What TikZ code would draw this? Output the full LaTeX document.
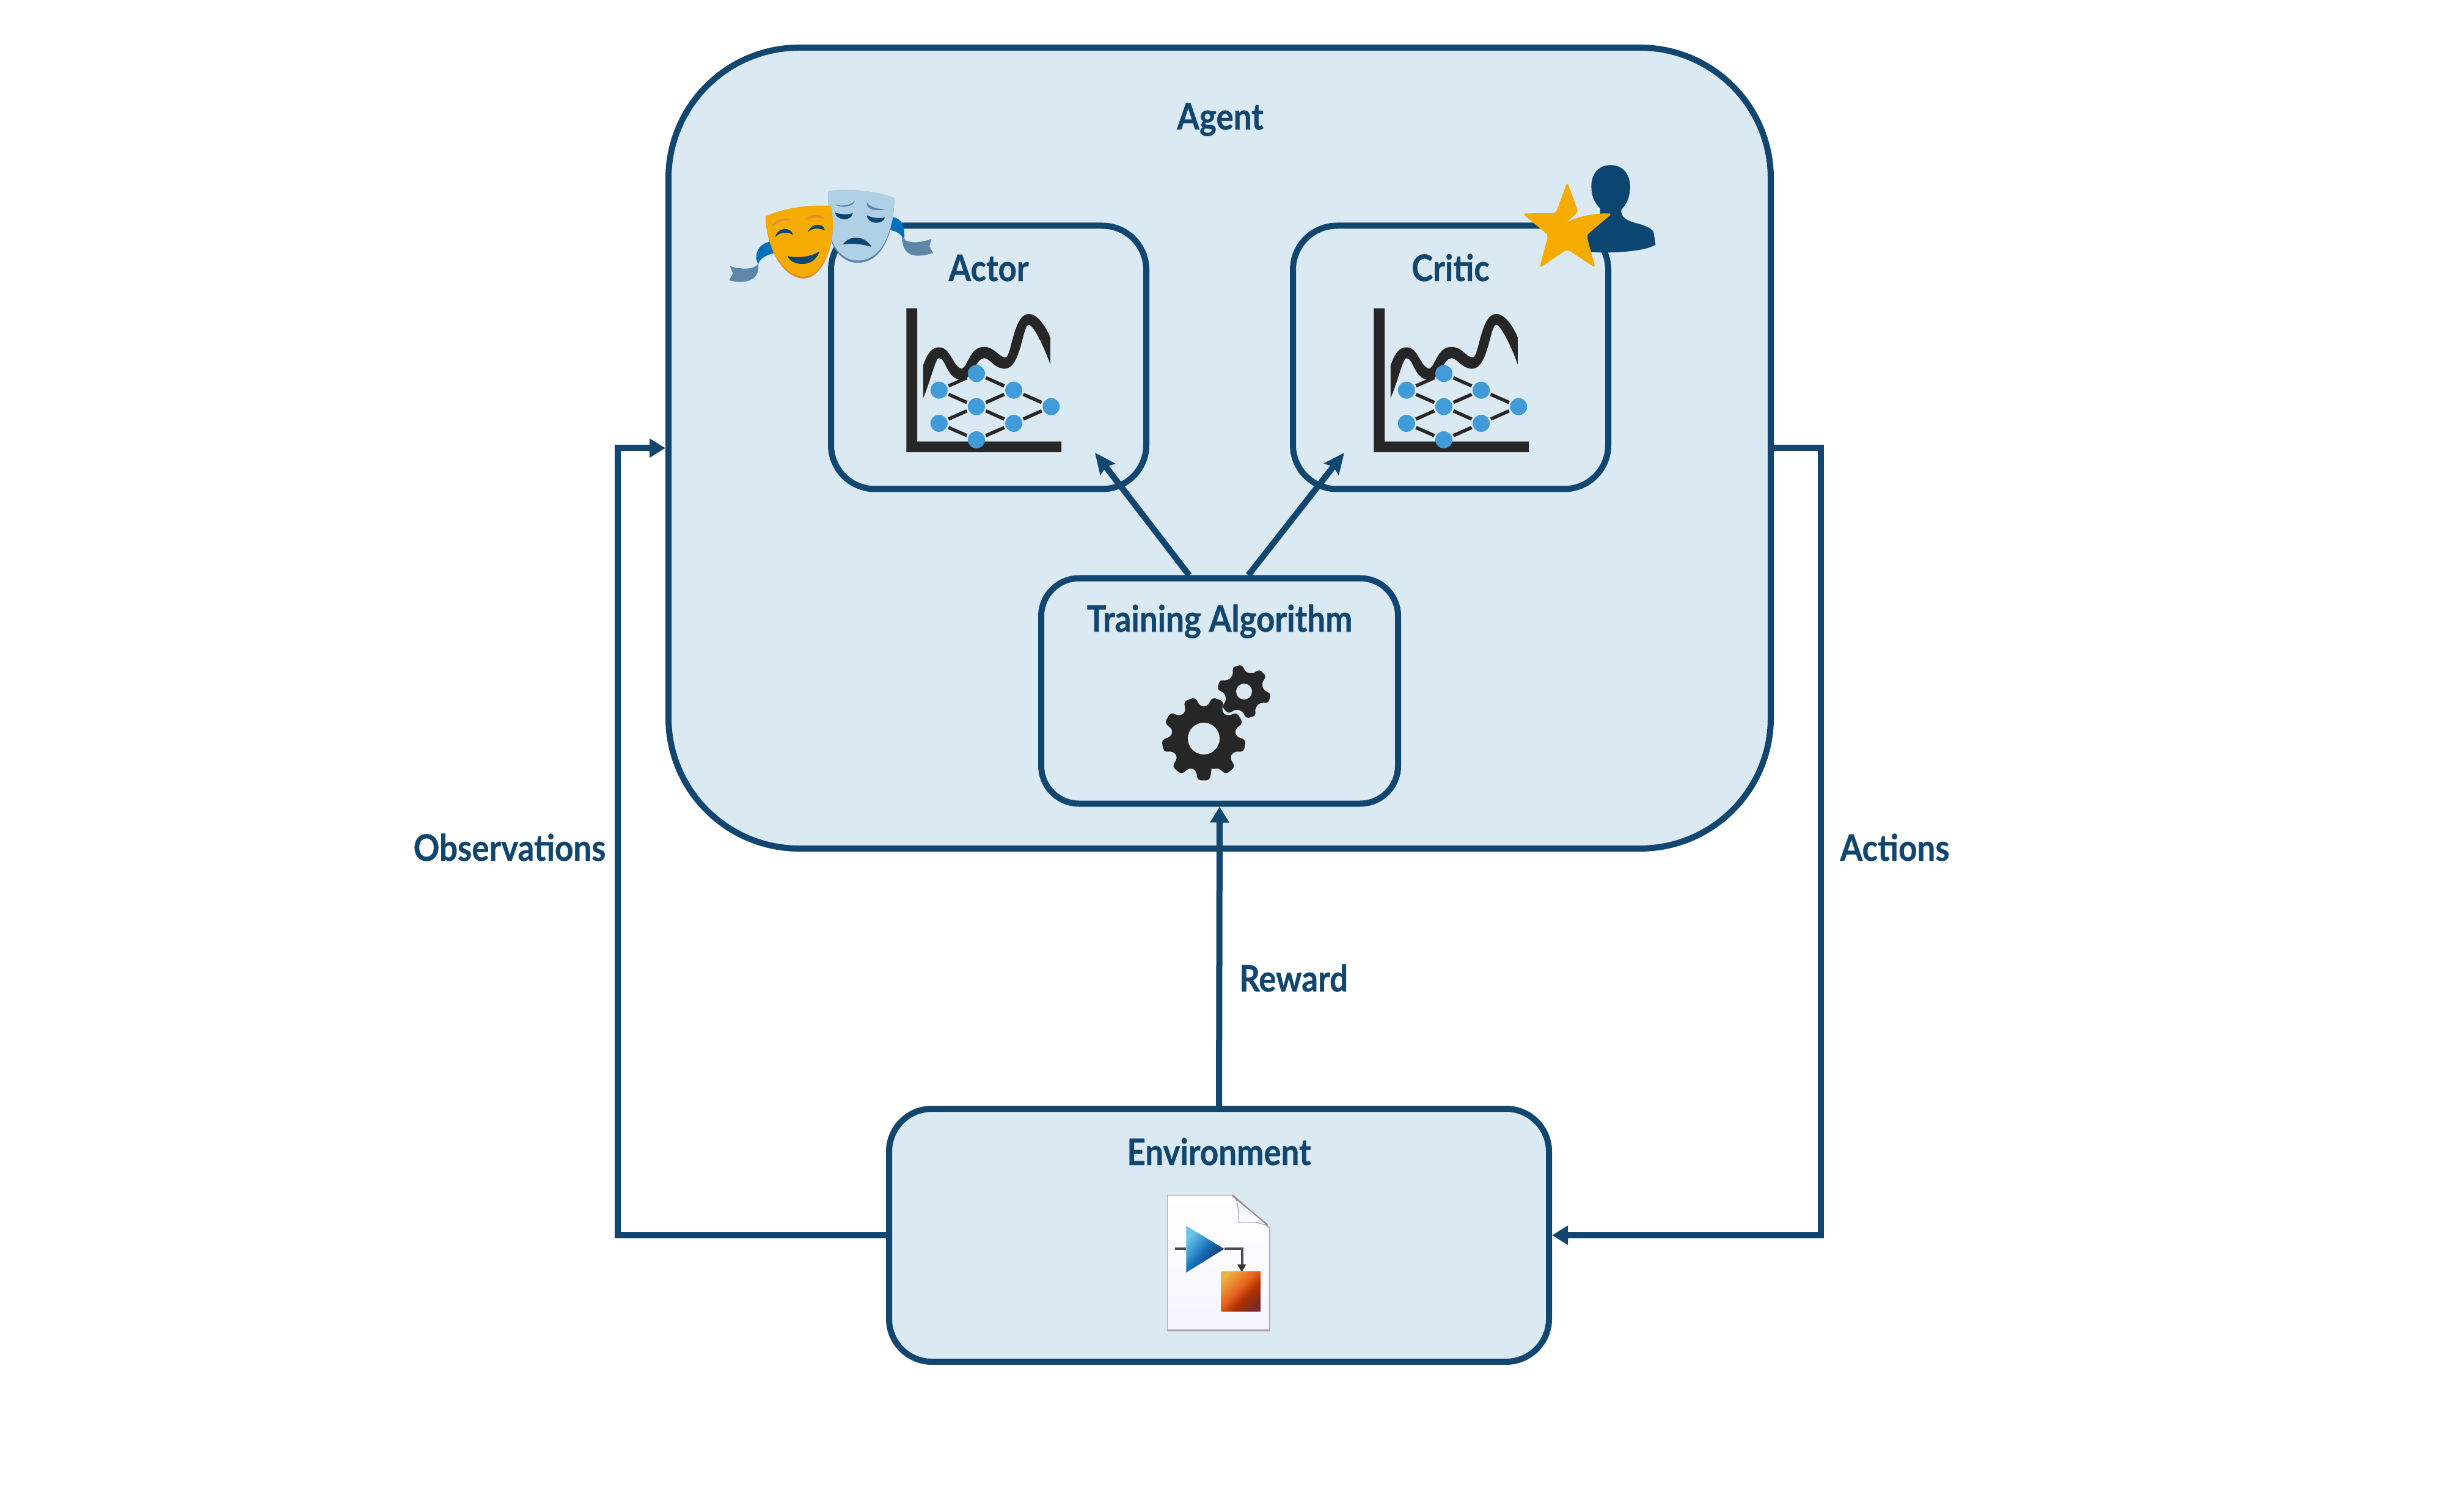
\documentclass[tikz,border=0pt]{standalone}
\usepackage{fontspec}
\setsansfont[FakeStretch=0.885,BoldFeatures={FakeBold=0.6}]{Lato}
\usetikzlibrary{arrows.meta,positioning,calc}
\definecolor{Ink}{HTML}{10466F}
\definecolor{PanelFill}{HTML}{DBE9F3}
\definecolor{Graphite}{HTML}{262626}
\definecolor{NetBlue}{HTML}{419BD8}
\definecolor{Amber}{HTML}{F5AB00}
\definecolor{AmberDark}{HTML}{DE9030}
\definecolor{SadBlue}{HTML}{B0D0E5}
\definecolor{SadShade}{HTML}{5D86A8}
\definecolor{Ribbon}{HTML}{0070BC}
\definecolor{PersonBlue}{HTML}{0B4672}
\definecolor{BlockA}{HTML}{E8B53E}
\definecolor{BlockB}{HTML}{E86320}
\definecolor{BlockC}{HTML}{B03000}
\definecolor{BlockD}{HTML}{7A2A28}
\definecolor{TriA}{HTML}{6CC4EA}
\definecolor{TriB}{HTML}{1570B8}
\definecolor{TriC}{HTML}{21346B}
\pgfdeclareverticalshading{blockshade}{100bp}{color(0bp)=(BlockD); color(24bp)=(BlockD); color(40bp)=(BlockC); color(54bp)=(BlockB); color(78bp)=(BlockA); color(100bp)=(BlockA)}
\pgfdeclareverticalshading{gainshade}{100bp}{color(0bp)=(TriC); color(32bp)=(TriC); color(50bp)=(TriB); color(74bp)=(TriA); color(100bp)=(TriA)}
\tikzset{
  panel/.style={draw=Ink,fill=PanelFill,line width=0.10cm,rounded corners=#1,outer sep=0.05cm,inner sep=0pt},
  boxlabel/.style={anchor=base,text=Ink,inner sep=0pt,font=\sffamily\bfseries\fontsize{17}{20}\selectfont},
  flow/.style={Ink,line width=0.10cm,-{Stealth[length=0.34cm,width=0.30cm,inset=0.05cm]}},
  route/.style={Ink,line width=0.10cm,-{Triangle[length=0.26cm,width=0.30cm]}},
  netnode/.style={circle,fill=NetBlue,minimum size=0.28cm,inner sep=0pt,outer sep=0.03cm},
  netedge/.style={Graphite,line width=0.055cm},
  netplot/.pic={
    \fill[Graphite] (652,687) -- (687,687) -- (687,1277) -- (1150,1277) -- (1150,1325) -- (652,1325) -- cycle;
    \fill[Graphite] (706,1085) -- (706,940) .. controls (720,885) and (735,860) .. (757,860)
      .. controls (795,860) and (800,945) .. (830,955) .. controls (850,945) and (855,858) .. (902,858)
      .. controls (935,858) and (950,905) .. (970,905) .. controls (990,905) and (995,712) .. (1045,712)
      .. controls (1070,712) and (1095,755) .. (1114,815) -- (1114,935)
      .. controls (1095,860) and (1060,760) .. (1045,760) .. controls (1025,760) and (1020,955) .. (968,955)
      .. controls (935,955) and (920,908) .. (902,908) .. controls (875,908) and (865,1000) .. (830,1005)
      .. controls (780,1000) and (780,908) .. (757,908) .. controls (745,908) and (730,1010) .. (706,1085) -- cycle;
    \node[netnode] (-a) at (757,1050) {};
    \node[netnode] (-b) at (757,1197) {};
    \node[netnode] (-c) at (877,976) {};
    \node[netnode] (-d) at (877,1123) {};
    \node[netnode] (-e) at (877,1270) {};
    \node[netnode] (-f) at (997,1050) {};
    \node[netnode] (-g) at (997,1197) {};
    \node[netnode] (-h) at (1117,1123) {};
    \foreach \from/\to in {a/c,a/d,b/d,b/e,c/f,d/f,d/g,e/g,f/h,g/h}
      \draw[netedge] (-\from) -- (-\to);
  }
}
\begin{document}
\begin{tikzpicture}[x=1cm,y=-1cm]
\useasboundingbox (0,0) rectangle (39.9,24.75);
\node[panel=2.14cm,minimum width=18.04cm,minimum height=13.11cm] (agent) at (19.96,7.335) {};
\node[boxlabel] (agentlabel) at (19.97,2.12) {Agent};
\node[panel=0.72cm,minimum width=5.16cm,minimum height=4.31cm] (actor) at (16.18,5.85) {};
\node[boxlabel] (actorlabel) at (16.18,4.60) {Actor};
\node[panel=0.72cm,minimum width=5.16cm,minimum height=4.31cm] (critic) at (23.74,5.85) {};
\node[boxlabel] (criticlabel) at (23.74,4.60) {Critic};
\node[panel=0.62cm,minimum width=5.84cm,minimum height=3.69cm] (training) at (19.96,11.31) {};
\node[boxlabel] (traininglabel) at (19.96,10.34) {Training Algorithm};
\node[panel=0.70cm,minimum width=10.80cm,minimum height=4.14cm] (env) at (19.95,20.22) {};
\node[boxlabel] (envlabel) at (19.95,19.07) {Environment};
\node[boxlabel] (obslabel) at (8.34,14.09) {Observations};
\node[boxlabel] (actionslabel) at (31.01,14.09) {Actions};
\node[boxlabel] (rewardlabel) at (21.17,16.23) {Reward};
% plots
\begin{scope}[x=0.005102cm,y=-0.0037cm]
\path (11.51cm,-2.51cm) pic (actorplot) {netplot};
\path (19.16cm,-2.51cm) pic (criticplot) {netplot};
\end{scope}
% gears
\fill[Graphite,rounded corners=0.05cm] ($(19.70,12.09)+(76:0.53)$)
  \foreach \i in {0,...,8} {
    -- ($(19.70,12.09)+({90+40*\i-14}:0.53)$) -- ($(19.70,12.09)+({90+40*\i-8}:0.69)$)
    -- ($(19.70,12.09)+({90+40*\i+8}:0.69)$) -- ($(19.70,12.09)+({90+40*\i+14}:0.53)$)
  } -- cycle;
\fill[PanelFill] (19.70,12.09) circle (0.26);
\fill[Graphite,rounded corners=0.04cm] ($(20.36,11.32)+(235:0.32)$)
  \foreach \i in {0,...,5} {
    -- ($(20.36,11.32)+({255+60*\i-20}:0.32)$) -- ($(20.36,11.32)+({255+60*\i-10}:0.44)$)
    -- ($(20.36,11.32)+({255+60*\i+10}:0.44)$) -- ($(20.36,11.32)+({255+60*\i+20}:0.32)$)
  } -- cycle;
\fill[PanelFill] (20.36,11.32) circle (0.13);
% masks
\begin{scope}[shift={(11.5,2.5)},x=0.005102cm,y=-0.0037cm]
\fill[Ribbon] (612,285) .. controls (640,295) and (648,320) .. (648,385) -- (640,370) .. controls (630,355) and (620,348) .. (602,343) -- cycle;
\fill[SadShade] (640,370) .. controls (645,400) and (690,405) .. (735,382) -- (728,415) -- (740,445) .. controls (690,465) and (640,470) .. (640,370) -- cycle;
\fill[Ribbon] (228,390) .. controls (190,400) and (172,420) .. (172,470) -- (178,495) .. controls (185,465) and (205,455) .. (228,445) -- cycle;
\fill[SadShade] (88,503) .. controls (120,518) and (170,520) .. (178,490) .. controls (188,570) and (130,585) .. (85,565) -- (97,535) -- cycle;
\fill[SadShade] (403,175) .. controls (470,160) and (560,175) .. (615,205) .. controls (615,330) and (585,488) .. (497,488) .. controls (450,488) and (415,430) .. (405,350) -- cycle;
\fill[SadBlue] (403,170) .. controls (470,155) and (560,170) .. (615,200) .. controls (615,320) and (585,478) .. (497,478) .. controls (450,478) and (415,420) .. (405,340) -- cycle;
\fill[SadShade] (425,228) .. controls (445,240) and (475,235) .. (488,213) .. controls (488,240) and (440,250) .. (425,228) -- cycle;
\fill[SadShade] (527,220) .. controls (540,245) and (565,250) .. (587,250) .. controls (560,262) and (525,255) .. (527,220) -- cycle;
\fill[PersonBlue] (425,265) .. controls (445,275) and (465,275) .. (482,268) .. controls (478,305) and (430,305) .. (425,265) -- cycle;
\fill[PersonBlue] (527,277) .. controls (545,290) and (565,292) .. (585,287) .. controls (580,320) and (530,320) .. (527,277) -- cycle;
\fill[PersonBlue] (450,407) .. controls (470,365) and (520,365) .. (542,417) .. controls (510,405) and (480,400) .. (450,407) -- cycle;
\fill[AmberDark] (202,285) .. controls (270,240) and (350,230) .. (412,240) .. controls (435,400) and (385,558) .. (325,558) .. controls (260,558) and (205,430) .. (202,285) -- cycle;
\fill[Amber] (202,282) .. controls (270,240) and (350,230) .. (412,236) .. controls (435,390) and (385,548) .. (325,548) .. controls (260,548) and (205,420) .. (202,282) -- cycle;
\fill[AmberDark] (222,328) .. controls (235,290) and (270,285) .. (282,300) .. controls (255,298) and (240,308) .. (222,328) -- cycle;
\fill[AmberDark] (332,297) .. controls (345,268) and (382,270) .. (393,295) .. controls (370,283) and (350,285) .. (332,297) -- cycle;
\fill[PersonBlue] (233,375) .. controls (238,330) and (285,325) .. (290,365) .. controls (270,345) and (245,355) .. (233,375) -- cycle;
\fill[PersonBlue] (337,352) .. controls (350,310) and (390,310) .. (392,345) .. controls (370,330) and (350,335) .. (337,352) -- cycle;
\fill[PersonBlue] (272,458) .. controls (310,470) and (350,460) .. (375,437) .. controls (365,480) and (340,493) .. (320,493) .. controls (295,493) and (280,480) .. (272,458) -- cycle;
\end{scope}
% person and star
\begin{scope}[shift={(20.5,2.3)},x=0.004464cm,y=-0.003827cm]
\fill[PersonBlue] (1310,105) .. controls (1360,105) and (1382,150) .. (1382,200) .. controls (1382,240) and (1368,275) .. (1350,295)
  .. controls (1345,330) and (1375,345) .. (1410,355) .. controls (1440,365) and (1460,375) .. (1468,392) -- (1475,445)
  .. controls (1440,475) and (1300,485) .. (1225,475) -- (1225,350) -- (1272,320) -- (1272,290)
  .. controls (1250,265) and (1240,235) .. (1240,195) .. controls (1240,145) and (1265,105) .. (1310,105) -- cycle;
\fill[Amber,rounded corners=0.05cm] (1152,178) -- (1192,305) -- (1147,352) .. controls (1190,325) and (1250,310) .. (1316,312) -- (1222,405) -- (1255,545) -- (1152,465) -- (1050,545) -- (1082,405) -- (988,312) -- (1110,310) -- cycle;
\end{scope}
% model file
\begin{scope}[shift={(18,19)},x=0.003333cm,y=-0.003333cm]
\fill[black!35] (332,175) -- (650,175) -- (838,335) -- (838,840) -- (332,840) -- cycle;
\path[top color=white,bottom color=blue!4!white,draw=black!30,line width=0.012cm] (332,170) -- (650,170) -- (834,330) -- (834,832) -- (332,832) -- cycle;
\path[top color=blue!8!white,bottom color=white,draw=black!40,line width=0.01cm] (660,172) .. controls (680,200) and (683,250) .. (683,305) .. controls (740,300) and (790,300) .. (830,325) -- cycle;
\draw[black!45,line width=0.02cm] (650,170) -- (825,315);
\draw[black!70,line width=0.04cm] (370,434) -- (425,434);
\draw[black!70,line width=0.04cm] (612,434) -- (700,434) -- (700,512);
\fill[black!80] (676,510) -- (720,510) -- (698,548) -- cycle;
\path[shade,shading=gainshade,shading angle=50] (425,320) -- (612,434) -- (425,550) -- cycle;
\path[shade,shading=blockshade,shading angle=45] (597,546) rectangle (790,740);
\end{scope}
% connectors
\coordinate (actorin) at (17.92,7.41);
\coordinate (criticin) at (22.00,7.41);
\draw[flow] ([xshift=-0.50cm]training.north) -- (actorin);
\draw[flow] ([xshift=0.47cm]training.north) -- (criticin);
\draw[route] (env.north) -- (training.south);
\draw[route] (env.west) -- ++(-4.39,0) |- (agent.west);
\draw[route] (agent.east) -- ++(0.77,0) |- (env.east);
\end{tikzpicture}
\end{document}
